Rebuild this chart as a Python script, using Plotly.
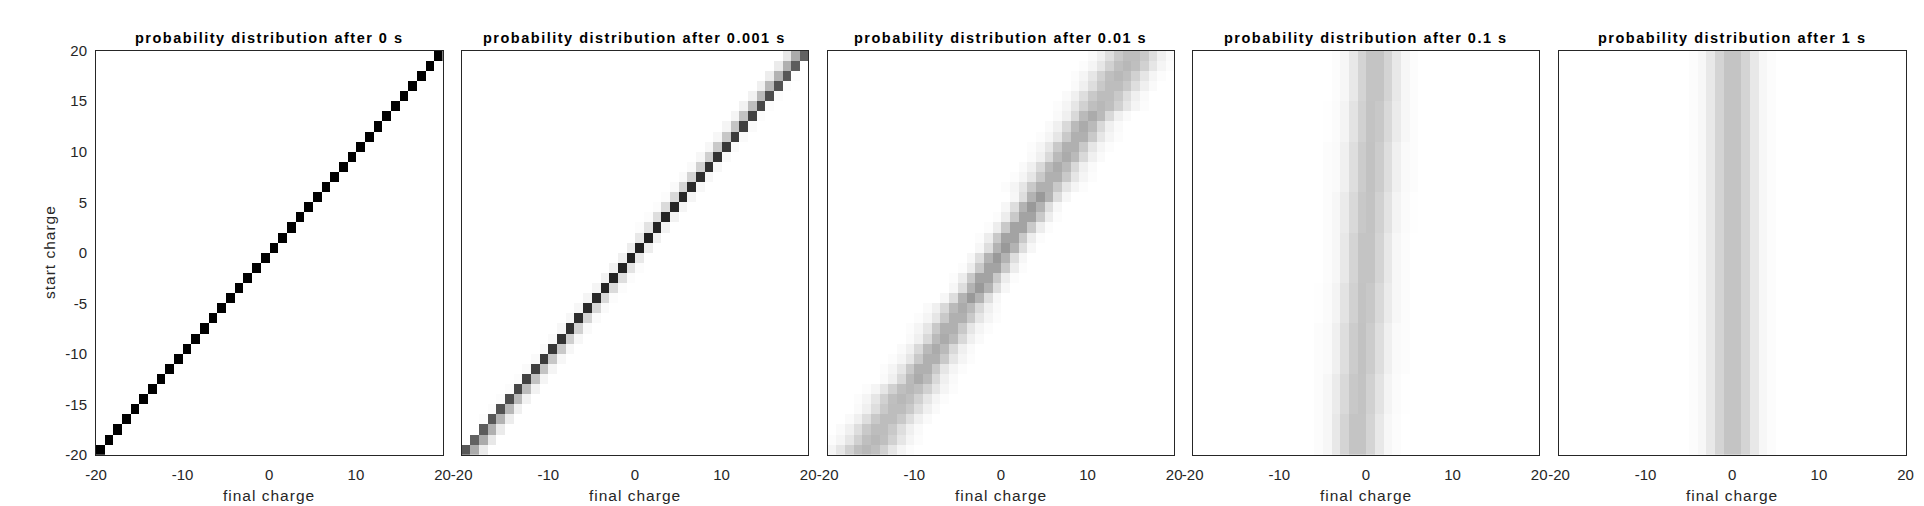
import math
import plotly.graph_objects as go

# ---------------- data ----------------
charges = list(range(-20, 20))          # start / final charge cells (40 cells over [-20, 20])
times = ["0", "0.001", "0.01", "0.1", "1"]
x_ticks = [-20, -10, 0, 10, 20]
y_ticks = [-20, -15, -10, -5, 0, 5, 10, 15, 20]

# panel 1 (t = 0): diagonal probability
p1_diag = 1.0

# panel 2 (t = 0.001 s): indexed by |start charge| 0..20
p2_diag    = [0.87, 0.87, 0.86, 0.86, 0.85, 0.84, 0.83, 0.82, 0.81, 0.80, 0.78,
              0.77, 0.75, 0.74, 0.72, 0.70, 0.68, 0.66, 0.64, 0.62, 0.66]
p2_toward1 = [0.07, 0.09, 0.11, 0.13, 0.14, 0.15, 0.16, 0.17, 0.18, 0.19, 0.21,
              0.22, 0.23, 0.24, 0.26, 0.27, 0.28, 0.30, 0.31, 0.33, 0.33]
p2_toward2 = [0.00, 0.00, 0.01, 0.01, 0.01, 0.01, 0.02, 0.02, 0.02, 0.03, 0.03,
              0.03, 0.04, 0.04, 0.05, 0.05, 0.06, 0.07, 0.08, 0.09, 0.08]
p2_away1   = [0.07, 0.06, 0.05, 0.05, 0.04, 0.04, 0.03, 0.03, 0.03, 0.02, 0.02,
              0.02, 0.02, 0.01, 0.01, 0.01, 0.01, 0.01, 0.00, 0.00, 0.00]

# panel 3 (t = 0.01 s): band centre (cell units) and width class per start charge -20..19
p3_center = [-16, -15, -14.5, -13.5, -12.5, -12, -11, -10, -9.5, -8.5,
             -8, -7, -6.5, -5.5, -5, -4, -3, -2.5, -1.5, -1,
             0, 0.5, 1.5, 2.5, 3, 4, 4.5, 5.5, 6, 7,
             7.5, 8.5, 9, 10, 11, 11.5, 12.5, 13, 14, 14.5]
p3_class = [2, 2, 2, 2, 2, 2, 2, 1, 1, 1, 1, 1, 1, 1, 1, 0, 0, 0, 0, 0,
            0, 0, 0, 0, 0, 0, 1, 1, 1, 1, 1, 1, 1, 1, 2, 2, 2, 2, 2, 2]
# profiles: (first offset, values); "int" = centred on one cell, "half" = between two cells
p3_int = [(-3, [0.03, 0.13, 0.30, 0.40, 0.30, 0.13, 0.03]),
          (-4, [0.02, 0.06, 0.15, 0.27, 0.33, 0.27, 0.15, 0.06, 0.02]),
          (-5, [0.01, 0.04, 0.10, 0.18, 0.25, 0.28, 0.25, 0.18, 0.10, 0.04, 0.01])]
p3_half = [(-3, [0.01, 0.07, 0.21, 0.36, 0.36, 0.21, 0.07, 0.01]),
           (-4, [0.01, 0.04, 0.10, 0.21, 0.31, 0.31, 0.21, 0.10, 0.04, 0.01]),
           (-4, [0.02, 0.06, 0.13, 0.21, 0.26, 0.26, 0.21, 0.13, 0.06, 0.02])]

# panels 4 and 5: near-stationary distribution, profiles by fractional centre position
stat_profiles = {
    0.0:  (-5, [0.01, 0.02, 0.06, 0.13, 0.20, 0.24, 0.20, 0.13, 0.06, 0.02, 0.01]),
    0.25: (-5, [0.005, 0.015, 0.045, 0.11, 0.18, 0.235, 0.215, 0.15, 0.08, 0.03, 0.01]),
    0.5:  (-4, [0.01, 0.03, 0.09, 0.17, 0.23, 0.23, 0.17, 0.09, 0.03, 0.01]),
    0.75: (-4, [0.01, 0.03, 0.08, 0.15, 0.215, 0.235, 0.18, 0.11, 0.045, 0.015, 0.005]),
}
p4_center = ([-1.5] * 4 + [-1.25] * 4 + [-1.0] * 5 + [-0.75] * 4 + [-0.5] * 5 +
             [-0.25] * 4 + [0.0] * 5 + [0.25] * 4 + [0.5] * 5)
p5_center = [-0.5] * 40


# ---------------- build matrices ----------------
n = len(charges)


def empty():
    return [[0.0] * n for _ in range(n)]


def put(row, col_charge, val):
    j = col_charge - charges[0]
    if 0 <= j < n:
        row[j] = max(row[j], val)


def place(row, c, prof_int, prof_half):
    if float(c).is_integer():
        off, vals = prof_int
        base = int(c)
    else:
        off, vals = prof_half
        base = int(math.floor(c))
    for k, v in enumerate(vals):
        put(row, base + off + k, v)


def place_stat(row, c):
    base = int(math.floor(c))
    off, vals = stat_profiles[round(c - base, 2)]
    for k, v in enumerate(vals):
        put(row, base + off + k, v)


Z1 = empty()
for i, s in enumerate(charges):
    put(Z1[i], s, p1_diag)

Z2 = empty()
for i, s in enumerate(charges):
    a = abs(s)
    d = -1 if s >= 0 else 1
    put(Z2[i], s, p2_diag[a])
    put(Z2[i], s + d, p2_toward1[a])
    put(Z2[i], s + 2 * d, p2_toward2[a])
    put(Z2[i], s - d, p2_away1[a])

Z3 = empty()
for i, s in enumerate(charges):
    cl = p3_class[i]
    place(Z3[i], p3_center[i], p3_int[cl], p3_half[cl])

Z4 = empty()
for i, s in enumerate(charges):
    place_stat(Z4[i], p4_center[i])

Z5 = empty()
for i, s in enumerate(charges):
    place_stat(Z5[i], p5_center[i])

Zs = [Z1, Z2, Z3, Z4, Z5]

# ---------------- figure ----------------
OFF = 8                     # the page body adds an 8 px margin
W, H = 1916, 498
left_px = [v - OFF for v in [96, 461.7, 827.7, 1192.7, 1559]]
width_px = 346.5
top_px, bottom_px = 50.7 - OFF, 455 - OFF
FONT = "Liberation Sans, Arial, Helvetica, sans-serif"
AXC = "#262626"

centers = [c + 0.5 for c in charges]
fig = go.Figure()
layout = dict(width=W, height=H, autosize=False,
              margin=dict(l=0, r=0, t=0, b=0, pad=0, autoexpand=False),
              paper_bgcolor="white", plot_bgcolor="white",
              font=dict(family=FONT, size=15, color=AXC),
              showlegend=False)
annotations = []

for p in range(5):
    xa = "x" if p == 0 else f"x{p+1}"
    ya = "y" if p == 0 else f"y{p+1}"
    fig.add_trace(go.Heatmap(
        x=centers, y=centers, z=Zs[p], xaxis=xa, yaxis=ya,
        colorscale=[[0, "#ffffff"], [1, "#000000"]], zmin=0, zmax=1,
        showscale=False, zsmooth=False, hoverinfo="skip"))
    x0 = left_px[p] / W
    x1 = (left_px[p] + width_px) / W
    layout["xaxis" if p == 0 else f"xaxis{p+1}"] = dict(
        domain=[x0, x1], range=[-20, 20], anchor=ya, automargin=False,
        tickvals=x_ticks, ticktext=[str(t) for t in x_ticks],
        ticks="outside", ticklen=6, tickcolor="rgba(0,0,0,0)",
        showline=True, linecolor=AXC, linewidth=1, mirror=True,
        showgrid=False, zeroline=False, fixedrange=True,
        tickfont=dict(family=FONT, size=15, color=AXC))
    layout["yaxis" if p == 0 else f"yaxis{p+1}"] = dict(
        domain=[1 - bottom_px / H, 1 - top_px / H], range=[-20, 20], anchor=xa,
        automargin=False,
        tickvals=y_ticks, ticktext=[str(t) for t in y_ticks],
        showticklabels=(p == 0),
        ticks="outside", ticklen=5, tickcolor="rgba(0,0,0,0)",
        showline=True, linecolor=AXC, linewidth=1, mirror=True,
        showgrid=False, zeroline=False, fixedrange=True,
        tickfont=dict(family=FONT, size=15, color=AXC))
    cx = (left_px[p] + width_px / 2) / W
    annotations.append(dict(
        text=('<span style="letter-spacing:1.5px"><b>probability distribution after '
              f'{times[p]} s</b></span>'),
        x=cx, y=1 - (38.5 - OFF) / H, xref="paper", yref="paper",
        xanchor="center", yanchor="middle", showarrow=False,
        font=dict(family=FONT, size=14.5, color="#000000")))
    annotations.append(dict(
        text='<span style="letter-spacing:1px">final charge</span>',
        x=cx, y=1 - (495 - OFF) / H, xref="paper", yref="paper",
        xanchor="center", yanchor="middle", showarrow=False,
        font=dict(family=FONT, size=15.5, color=AXC)))

annotations.append(dict(
    text='<span style="letter-spacing:1px">start charge</span>',
    x=(49 - OFF) / W, y=1 - (252 - OFF) / H, xref="paper", yref="paper",
    xanchor="center", yanchor="middle", showarrow=False, textangle=-90,
    font=dict(family=FONT, size=15.5, color=AXC)))
layout["annotations"] = annotations
fig.update_layout(**layout)
fig.write_html("out.html")
